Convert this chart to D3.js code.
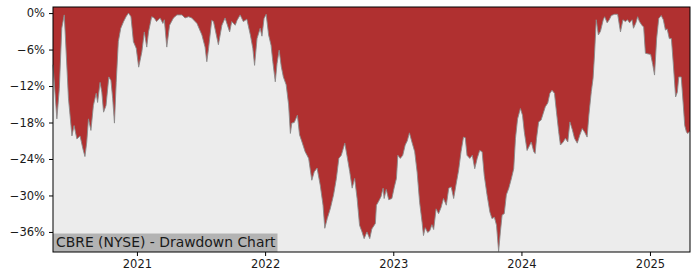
<!DOCTYPE html>
<html>
<head>
<meta charset="utf-8">
<script src="https://cdn.jsdelivr.net/npm/d3@7"></script>
<style>
  body { margin: 0; background: #fff; }
  text { font-family: "DejaVu Sans", sans-serif; }
</style>
</head>
<body>
<div class="drawdown"></div>
<script>
const chartTitle = "CBRE (NYSE) - Drawdown Chart"
const yTicks = [0, -6, -12, -18, -24, -30, -36]
const xTicks = ["2021-01-01", "2022-01-01", "2023-01-01", "2024-01-01", "2025-01-01"]

const dates = [
  "2020-05-07","2020-05-18","2020-05-25","2020-06-01","2020-06-08","2020-06-11","2020-06-20","2020-06-30",
  "2020-07-06","2020-07-14","2020-07-23","2020-07-31","2020-08-06","2020-08-11","2020-08-16","2020-08-23",
  "2020-08-30","2020-09-07","2020-09-11","2020-09-18","2020-09-23","2020-09-28","2020-10-05","2020-10-13",
  "2020-10-19","2020-10-24","2020-10-29","2020-11-03","2020-11-09","2020-11-16","2020-11-24","2020-12-01",
  "2020-12-08","2020-12-15","2020-12-22","2020-12-30","2021-01-06","2021-01-15","2021-01-22","2021-01-29",
  "2021-02-03","2021-02-12","2021-02-19","2021-02-26","2021-03-08","2021-03-16","2021-03-20","2021-03-27",
  "2021-04-04","2021-04-15","2021-04-25","2021-05-09","2021-05-18","2021-05-28","2021-06-06","2021-06-21",
  "2021-07-05","2021-07-14","2021-07-19","2021-07-24","2021-08-02","2021-08-07","2021-08-21","2021-08-31",
  "2021-09-09","2021-09-22","2021-09-28","2021-10-08","2021-10-13","2021-10-22","2021-10-31","2021-11-10",
  "2021-11-20","2021-11-27","2021-12-02","2021-12-09","2021-12-18","2021-12-23","2021-12-29","2022-01-04",
  "2022-01-11","2022-01-18","2022-01-23","2022-01-30","2022-02-04","2022-02-10","2022-02-16","2022-02-22",
  "2022-03-02","2022-03-09","2022-03-14","2022-03-18","2022-03-25","2022-04-03","2022-04-09","2022-04-16",
  "2022-04-25","2022-05-05","2022-05-14","2022-05-21","2022-05-29","2022-06-07","2022-06-15","2022-06-20",
  "2022-06-27","2022-07-06","2022-07-15","2022-07-23","2022-07-30","2022-08-06","2022-08-16","2022-08-22",
  "2022-08-30","2022-09-06","2022-09-13","2022-09-20","2022-09-27","2022-10-04","2022-10-10","2022-10-18",
  "2022-10-26","2022-11-01","2022-11-11","2022-11-14","2022-11-20","2022-11-27","2022-12-03","2022-12-06",
  "2022-12-12","2022-12-19","2022-12-28","2023-01-04","2023-01-10","2023-01-14","2023-01-21","2023-01-28",
  "2023-02-04","2023-02-10","2023-02-16","2023-02-23","2023-03-03","2023-03-10","2023-03-17","2023-03-24",
  "2023-03-28","2023-04-02","2023-04-09","2023-04-15","2023-04-21","2023-04-26","2023-05-03","2023-05-10",
  "2023-05-17","2023-05-24","2023-06-01","2023-06-08","2023-06-15","2023-06-22","2023-06-30","2023-07-06",
  "2023-07-13","2023-07-20","2023-07-25","2023-07-30","2023-08-07","2023-08-14","2023-08-21","2023-08-28",
  "2023-09-04","2023-09-11","2023-09-17","2023-09-25","2023-10-03","2023-10-09","2023-10-16","2023-10-22",
  "2023-10-28","2023-11-02","2023-11-07","2023-11-13","2023-11-19","2023-11-26","2023-12-03","2023-12-10",
  "2023-12-15","2023-12-21","2023-12-29","2024-01-04","2024-01-09","2024-01-17","2024-01-24","2024-01-29",
  "2024-02-05","2024-02-09","2024-02-13","2024-02-19","2024-02-26","2024-03-03","2024-03-09","2024-03-16",
  "2024-03-22","2024-03-28","2024-04-04","2024-04-10","2024-04-16","2024-04-21","2024-04-29","2024-05-05",
  "2024-05-12","2024-05-18","2024-05-25","2024-05-31","2024-06-08","2024-06-15","2024-06-22","2024-06-29",
  "2024-07-06","2024-07-11","2024-07-18","2024-07-23","2024-07-27","2024-08-01","2024-08-07","2024-08-13",
  "2024-08-21","2024-08-25","2024-09-01","2024-09-07","2024-09-13","2024-09-22","2024-10-01","2024-10-09",
  "2024-10-16","2024-10-23","2024-10-29","2024-11-04","2024-11-11","2024-11-15","2024-11-22","2024-11-27",
  "2024-12-02","2024-12-09","2024-12-14","2024-12-19","2024-12-25","2025-01-03","2025-01-09","2025-01-14",
  "2025-01-20","2025-01-26","2025-02-02","2025-02-08","2025-02-14","2025-02-19","2025-02-25","2025-03-03",
  "2025-03-08","2025-03-15","2025-03-20","2025-03-24","2025-03-31","2025-04-06","2025-04-10","2025-04-15",
  "2025-04-19","2025-04-25"
]

const drawdown = [
  -8.5, -17.4, -12.4, -2.5, -0.3, -3.6, -14.0, -20.2,
  -18.5, -20.7, -20.2, -22.3, -23.6, -21.3, -17.4, -19.3,
  -15.2, -13.2, -14.7, -11.4, -13.0, -16.3, -15.2, -10.5,
  -11.1, -14.1, -18.1, -11.4, -4.7, -2.5, -1.4, -0.6,
  0.0, -0.6, -4.7, -5.8, -8.9, -6.4, -3.1, -5.6,
  -3.1, -0.6, -0.8, -1.4, -0.8, -1.7, -1.1, -5.6,
  -2.0, -0.8, -0.3, -0.3, -0.8, -0.6, -0.8, -1.7,
  -3.6, -5.6, -8.0, -5.8, -1.2, -1.4, -5.2, -2.0,
  -0.8, -3.1, -1.4, -2.0, -1.2, -0.3, -1.4, -1.0,
  -3.6, -5.8, -8.6, -4.2, -2.5, -3.8, -0.9, -0.2,
  -3.6, -5.3, -8.0, -11.3, -8.3, -6.1, -8.8, -10.5,
  -11.8, -15.1, -19.8, -18.1, -18.0, -16.8, -20.0, -21.2,
  -22.8, -23.9, -27.5, -26.1, -25.5, -28.3, -31.6, -35.4,
  -33.8, -32.1, -29.9, -27.2, -23.9, -23.4, -21.4, -23.4,
  -26.1, -28.8, -27.2, -30.5, -34.9, -36.0, -37.1, -36.0,
  -37.1, -35.5, -34.6, -31.6, -31.0, -30.2, -28.8, -30.5,
  -29.0, -30.7, -30.5, -28.6, -27.2, -23.4, -23.9, -23.4,
  -21.7, -21.0, -19.7, -21.2, -22.8, -26.2, -31.1, -34.4,
  -36.6, -35.3, -36.1, -35.8, -34.8, -35.6, -32.2, -33.0,
  -32.0, -30.5, -31.6, -28.8, -28.6, -30.5, -27.8, -25.9,
  -22.8, -20.4, -20.5, -23.4, -23.9, -23.4, -25.6, -23.9,
  -22.6, -22.8, -26.7, -29.9, -32.7, -33.8, -33.6, -34.9,
  -39.2, -36.0, -33.2, -33.0, -29.9, -28.8, -27.3, -25.6,
  -20.6, -17.4, -15.7, -16.8, -19.5, -22.6, -21.8, -21.2,
  -22.8, -23.1, -20.6, -17.9, -17.6, -16.5, -15.4, -14.8,
  -13.2, -12.7, -13.2, -16.4, -19.5, -21.7, -21.2, -20.6,
  -21.2, -17.9, -19.2, -20.6, -21.4, -20.1, -19.0, -19.6,
  -20.4, -16.8, -12.9, -10.7, -6.9, -1.1, -3.6, -3.0,
  -1.1, -0.6, -1.6, -1.1, -0.4, -0.2, -0.2, -3.1,
  -1.1, -1.4, -1.1, -1.6, -1.1, -2.5, -1.6, -0.6,
  -1.4, -2.0, -2.3, -6.6, -6.7, -6.8, -8.5, -10.2,
  -4.2, -0.9, -0.4, -1.1, -2.8, -2.6, -4.2, -4.2,
  -8.0, -13.8, -13.0, -10.5, -10.5, -15.2, -18.5, -19.6,
  -19.8, -19.4
]

function drawDrawdown() {
  const dateParser = d3.timeParse("%Y-%m-%d")
  const dataset = dates.map((d, i) => ({ date: dateParser(d), value: drawdown[i] }))
  const xAccessor = d => d.date
  const yAccessor = d => d.value

  const dimensions = {
    width: 700,
    height: 280,
    margin: {
      top: 7,
      right: 10,
      bottom: 28,
      left: 53,
    },
  }
  dimensions.boundedWidth = dimensions.width
    - dimensions.margin.left
    - dimensions.margin.right
  dimensions.boundedHeight = dimensions.height
    - dimensions.margin.top
    - dimensions.margin.bottom

  const wrapper = d3.select(".drawdown")
    .append("svg")
    .attr("width", dimensions.width)
    .attr("height", dimensions.height)

  const bounds = wrapper.append("g")
    .attr("transform", `translate(${dimensions.margin.left}, ${dimensions.margin.top})`)

  const xScale = d3.scaleTime()
    .domain(d3.extent(dataset, xAccessor))
    .range([0, dimensions.boundedWidth])

  const yScale = d3.scaleLinear()
    .domain([-39.3, 1.0])
    .range([dimensions.boundedHeight, 0])

  bounds.append("rect")
    .attr("width", dimensions.boundedWidth)
    .attr("height", dimensions.boundedHeight)
    .attr("fill", "#ececec")

  const areaGenerator = d3.area()
    .x(d => xScale(xAccessor(d)))
    .y0(0)
    .y1(d => yScale(yAccessor(d)))

  bounds.append("path")
    .attr("d", areaGenerator(dataset))
    .attr("fill", "#b03030")

  const lineGenerator = d3.line()
    .x(d => xScale(xAccessor(d)))
    .y(d => yScale(yAccessor(d)))

  bounds.append("path")
    .attr("d", lineGenerator(dataset))
    .attr("fill", "none")
    .attr("stroke", "#8a8a8a")
    .attr("stroke-width", 0.9)

  // label box in the lower left corner
  const label = bounds.append("g")
    .attr("transform", `translate(0, ${dimensions.boundedHeight - 18.5})`)
  label.append("rect")
    .attr("width", 224.5)
    .attr("height", 18.5)
    .attr("fill", "#b3b3b3")
  label.append("text")
    .attr("x", 3)
    .attr("y", 13.5)
    .attr("fill", "#1a1a1a")
    .style("font-size", "13.9px")
    .text(chartTitle)

  const yAxisGenerator = d3.axisLeft()
    .scale(yScale)
    .tickValues(yTicks)
    .tickSize(4)
    .tickPadding(4)
    .tickFormat(d => (d < 0 ? "\u2212" : "") + Math.abs(d) + "%")

  const yAxis = bounds.append("g")
    .call(yAxisGenerator)
  yAxis.select(".domain").remove()

  const xAxisGenerator = d3.axisBottom()
    .scale(xScale)
    .tickValues(xTicks.map(dateParser))
    .tickSize(4)
    .tickPadding(4)
    .tickFormat(d3.timeFormat("%Y"))

  const xAxis = bounds.append("g")
    .call(xAxisGenerator)
    .attr("transform", `translate(0, ${dimensions.boundedHeight})`)
  xAxis.select(".domain").remove()

  wrapper.selectAll(".tick text")
    .attr("fill", "#1a1a1a")
    .style("font-family", "DejaVu Sans")
    .style("font-size", "11.5px")
  wrapper.selectAll(".tick line")
    .attr("stroke", "#000")

  bounds.append("rect")
    .attr("width", dimensions.boundedWidth)
    .attr("height", dimensions.boundedHeight)
    .attr("fill", "none")
    .attr("stroke", "#000")
    .attr("stroke-width", 1)
}

drawDrawdown()
</script>
</body>
</html>
